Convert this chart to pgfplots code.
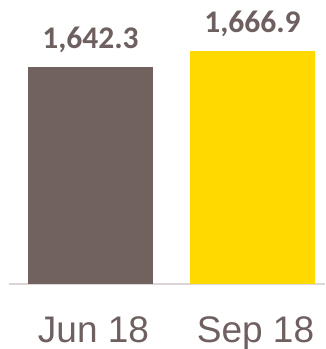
\documentclass[border=0pt]{standalone}
\usepackage{fontspec}
\setmainfont{Liberation Sans}
\newfontfamily\carlito{Carlito}
\usepackage{pgfplots}
\pgfplotsset{compat=1.18}
\definecolor{barbrown}{RGB}{113,98,96}
\definecolor{baryellow}{RGB}{255,217,0}
\definecolor{txtgray}{RGB}{111,96,96}
\definecolor{axgray}{RGB}{220,214,214}
\begin{document}
\begin{tikzpicture}
\useasboundingbox (0,0) rectangle (325pt,349pt);
\begin{axis}[
  at={(9pt,65pt)}, anchor=south west,
  scale only axis, width=316pt, height=284pt,
  xmin=-0.503, xmax=1.4475,
  ymin=1309, ymax=1745.7,
  clip=false,
  axis x line=bottom, axis y line=none,
  axis line style={draw=axgray, line width=2.5pt, -},
  xtick={0,1}, xticklabels={Jun 18,Sep 18},
  major tick length=0pt,
  xticklabel style={font=\fontsize{37}{37}\selectfont, text=txtgray, anchor=north, inner sep=0pt, yshift=-32pt, xshift=3pt},
  ybar, bar width=125pt, bar shift=0pt,
  nodes near coords,
  nodes near coords style={font=\carlito\bfseries\fontsize{31.5}{31.5}\selectfont, text=txtgray, anchor=south, inner sep=0pt, yshift=14.5pt,
    /pgf/number format/.cd, fixed, precision=1, fixed zerofill, 1000 sep={,}, assume math mode=true},
]
\addplot[fill=barbrown, draw=none] coordinates {(0,1642.3)};
\addplot[fill=baryellow, draw=none] coordinates {(1,1666.9)};
\end{axis}
\end{tikzpicture}
\end{document}
